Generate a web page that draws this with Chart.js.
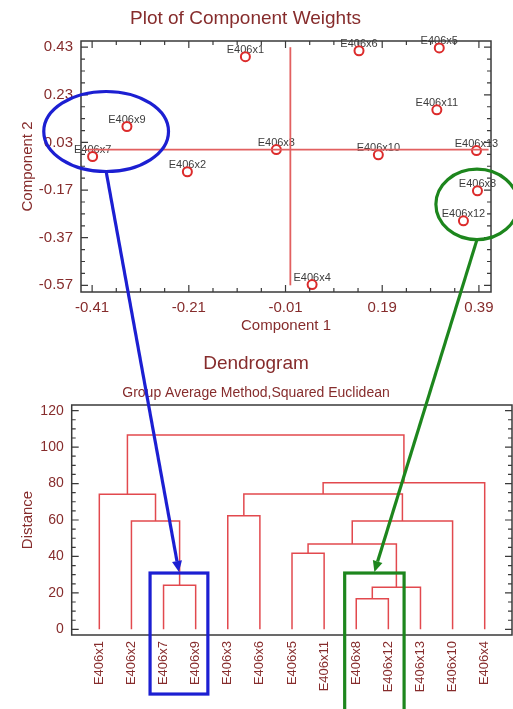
<!DOCTYPE html>
<html>
<head>
<meta charset="utf-8">
<script src="https://cdn.jsdelivr.net/npm/chart.js@4.4.1/dist/chart.umd.min.js"></script>
<style>
  body { margin: 0; background: #fff; }
  #wrap { position: relative; width: 513px; height: 709px; overflow: hidden; }
  #weights { position: absolute; left: 0; top: 0; }
  #dendro { position: absolute; left: 0; top: 340px; }
  #over { position: absolute; left: 0; top: 0; pointer-events: none; }
</style>
</head>
<body>
<div id="wrap">
  <canvas id="weights" width="513" height="340"></canvas>
  <canvas id="dendro" width="513" height="369"></canvas>
  <canvas id="over" width="513" height="709"></canvas>
</div>
<script>
// ---- component weights (top plot) ----
const pointNames = ['E406x1','E406x2','E406x3','E406x4','E406x5','E406x6','E406x7','E406x8','E406x9','E406x10','E406x11','E406x12','E406x13'];
const comp1 = [-0.093,-0.213,-0.029,0.045,0.308,0.142,-0.409,0.387,-0.338,0.182,0.303,0.358,0.385];
const comp2 = [0.390,-0.093,0.000,-0.567,0.427,0.415,-0.029,-0.173,0.097,-0.022,0.167,-0.299,-0.004];
const xTicks = [-0.41,-0.21,-0.01,0.19,0.39];
const yTicks = [-0.57,-0.37,-0.17,0.03,0.23,0.43];
const zeroLineX = [-0.424, 0.41];   // horizontal line at comp2 = 0
const zeroLineY = [-0.57, 0.43];    // vertical line at comp1 = 0

// ---- dendrogram (bottom plot) ----
const leafNames = ['E406x1','E406x2','E406x7','E406x9','E406x3','E406x6','E406x5','E406x11','E406x8','E406x12','E406x13','E406x10','E406x4'];
// merge k joins mergeA[k] and mergeB[k] into cluster 'c'+k
const mergeA = ['E406x7','E406x8','c1','E406x5','c3','E406x3','E406x2','c4','E406x1','c5','c9','c8'];
const mergeB = ['E406x9','E406x12','E406x13','E406x11','c2','E406x6','c0','E406x10','c6','c7','E406x4','c10'];
const mergeH = [24.2, 16.8, 23.1, 41.7, 46.8, 62.4, 59.5, 59.5, 74.1, 74.3, 80.5, 106.7];
const distTicks = [0,20,40,60,80,100,120];

// callouts: ellipse in the top plot, box in the dendrogram
const callouts = [
  { color: '#1c1fd2', cx: -0.381, cy: 0.076, rx: 0.129, ry: 0.168, box: [1.58, 3.38], boxTop: 30.9, boxBottom: -35.5 },
  { color: '#1d861d', cx: 0.386, cy: -0.230, rx: 0.085, ry: 0.148, box: [7.64, 9.49], boxTop: 30.9, boxBottom: -46 }
];

const maroon = '#862c2c';
Chart.defaults.font.family = "'Liberation Sans', Arial, sans-serif";
Chart.defaults.color = maroon;

// border + inward ticks on the plot frame
const frameTicks = {
  id: 'frameTicks',
  afterDraw(chart, args, o) {
    const ctx = chart.ctx, a = chart.chartArea;
    ctx.save();
    ctx.strokeStyle = '#3a3a3a';
    ctx.lineWidth = 1.5;
    ctx.strokeRect(a.left, a.top, a.right - a.left, a.bottom - a.top);
    ctx.lineWidth = 1.2;
    ctx.beginPath();
    (o.marks || []).forEach(function(m) {
      const s = chart.scales[m.axis];
      for (let k = -60; k <= 60; k++) {
        const v = m.start + k * m.step;
        if (v < s.min - 1e-9 || v > s.max + 1e-9) continue;
        const p = s.getPixelForValue(v);
        const len = (k % m.every === 0) ? 7 : 4;
        m.sides.forEach(function(side) {
          if (side === 'left') { ctx.moveTo(a.left, p); ctx.lineTo(a.left + len, p); }
          if (side === 'right') { ctx.moveTo(a.right, p); ctx.lineTo(a.right - len, p); }
          if (side === 'bottom') { ctx.moveTo(p, a.bottom); ctx.lineTo(p, a.bottom - len); }
          if (side === 'top') { ctx.moveTo(p, a.top); ctx.lineTo(p, a.top + len); }
        });
      }
    });
    ctx.stroke();
    ctx.restore();
  }
};

// names above the scatter points
const pointLabels = {
  id: 'pointLabels',
  beforeDatasetsDraw(chart) {
    const ctx = chart.ctx;
    const meta = chart.getDatasetMeta(2);
    ctx.save();
    ctx.font = "11px 'Liberation Sans', Arial, sans-serif";
    ctx.fillStyle = '#3c3c3c';
    ctx.textAlign = 'center';
    ctx.textBaseline = 'middle';
    meta.data.forEach(function(el, i) {
      ctx.fillText(pointNames[i], el.x, el.y - 7);
    });
    ctx.restore();
  }
};

function fixTicks(list) {
  return function(scale) { scale.ticks = list.map(function(v) { return { value: v }; }); };
}

const weightChart = new Chart(document.getElementById('weights'), {
  type: 'scatter',
  data: {
    datasets: [
      { data: zeroLineX.map(function(x) { return { x: x, y: 0 }; }), showLine: true,
        borderColor: '#e26060', borderWidth: 1.8, pointRadius: 0 },
      { data: zeroLineY.map(function(y) { return { x: 0, y: y }; }), showLine: true,
        borderColor: '#e26060', borderWidth: 1.8, pointRadius: 0 },
      { data: pointNames.map(function(n, i) { return { x: comp1[i], y: comp2[i] }; }),
        pointRadius: 4.5, pointHoverRadius: 4.5, borderWidth: 2,
        borderColor: '#dc2b2b', backgroundColor: 'rgba(0,0,0,0)' }
    ]
  },
  options: {
    responsive: false,
    animation: false,
    layout: { padding: { left: 0, right: 22, top: 0, bottom: 0 } },
    plugins: {
      legend: { display: false },
      tooltip: { enabled: false },
      title: { display: true, text: 'Plot of Component Weights', color: maroon,
        font: { size: 19, weight: 'normal' }, padding: { top: 7.6, bottom: 10.6 } },
      frameTicks: { marks: [
        { axis: 'x', start: -0.41, step: 0.05, every: 4, sides: ['bottom', 'top'] },
        { axis: 'y', start: 0.43, step: 0.05, every: 4, sides: ['left', 'right'] }
      ] }
    },
    scales: {
      x: {
        type: 'linear', min: -0.433, max: 0.415,
        afterBuildTicks: fixTicks(xTicks),
        afterFit: function(s) { s.height = 48; },
        grid: { display: false, drawTicks: false }, border: { display: false },
        ticks: { padding: 7, color: maroon, font: { size: 15 }, callback: function(v) { return v.toFixed(2); } },
        title: { display: true, text: 'Component 1', color: maroon, font: { size: 15 }, padding: { top: 0, bottom: 5 } }
      },
      y: {
        type: 'linear', min: -0.598, max: 0.456,
        afterBuildTicks: fixTicks(yTicks),
        afterFit: function(s) { s.width = 81; },
        grid: { display: false, drawTicks: false }, border: { display: false },
        ticks: { padding: 8, color: maroon, font: { size: 15 }, callback: function(v) { return v.toFixed(2); } },
        title: { display: true, text: 'Component 2', color: maroon, font: { size: 15 }, padding: { top: 18.5, bottom: 0 } }
      }
    }
  },
  plugins: [frameTicks, pointLabels]
});

// build the dendrogram links from the merge list
const nodeX = {}, nodeH = {};
leafNames.forEach(function(n, i) { nodeX[n] = i; nodeH[n] = 0; });
const linkSets = mergeH.map(function(h, k) {
  const a = mergeA[k], b = mergeB[k];
  nodeX['c' + k] = (nodeX[a] + nodeX[b]) / 2;
  nodeH['c' + k] = h;
  return {
    data: [ { x: nodeX[a], y: nodeH[a] }, { x: nodeX[a], y: h }, { x: nodeX[b], y: h }, { x: nodeX[b], y: nodeH[b] } ],
    showLine: true, borderColor: '#e2494e', borderWidth: 1.5, pointRadius: 0, tension: 0
  };
});

const dendroChart = new Chart(document.getElementById('dendro'), {
  type: 'scatter',
  data: { datasets: linkSets },
  options: {
    responsive: false,
    animation: false,
    layout: { padding: { left: 0, right: 1, top: 0, bottom: 0 } },
    plugins: {
      legend: { display: false },
      tooltip: { enabled: false },
      title: { display: true, text: 'Dendrogram', color: maroon,
        font: { size: 19, weight: 'normal' }, padding: { top: 12.1, bottom: 9.7 } },
      subtitle: { display: true, text: 'Group Average Method,Squared Euclidean', color: maroon,
        font: { size: 14 }, padding: { top: 0, bottom: 3.6 } },
      frameTicks: { marks: [
        { axis: 'y', start: 0, step: 5, every: 4, sides: ['left', 'right'] }
      ] }
    },
    scales: {
      x: {
        type: 'linear', min: -0.86, max: 12.85,
        afterBuildTicks: fixTicks(leafNames.map(function(n, i) { return i; })),
        afterFit: function(s) { s.height = 74; },
        grid: { display: false, drawTicks: false }, border: { display: false },
        ticks: { autoSkip: false, minRotation: 90, maxRotation: 90, padding: 6, color: maroon,
          font: { size: 13 }, callback: function(v) { return leafNames[v]; } }
      },
      y: {
        type: 'linear', min: -3.1, max: 123.1,
        afterBuildTicks: fixTicks(distTicks),
        afterFit: function(s) { s.width = 71.7; },
        grid: { display: false, drawTicks: false }, border: { display: false },
        ticks: { padding: 8, color: maroon, font: { size: 14 } },
        title: { display: true, text: 'Distance', color: maroon, font: { size: 15 }, padding: { top: 19, bottom: 0 } }
      }
    }
  },
  plugins: [frameTicks]
});

// ellipses, arrows and boxes over both plots
function drawCallouts() {
  const ctx = document.getElementById('over').getContext('2d');
  const sx = weightChart.scales.x, sy = weightChart.scales.y;
  const dx = dendroChart.scales.x, dy = dendroChart.scales.y;
  const offY = 340;
  ctx.clearRect(0, 0, 513, 709);
  callouts.forEach(function(c) {
    const ex = sx.getPixelForValue(c.cx), ey = sy.getPixelForValue(c.cy);
    const rx = Math.abs(sx.getPixelForValue(c.cx + c.rx) - ex);
    const ry = Math.abs(sy.getPixelForValue(c.cy + c.ry) - ey);
    ctx.strokeStyle = c.color;
    ctx.fillStyle = c.color;
    ctx.lineWidth = 3.2;
    ctx.beginPath();
    ctx.ellipse(ex, ey, rx, ry, 0, 0, Math.PI * 2);
    ctx.stroke();

    const bx0 = dx.getPixelForValue(c.box[0]), bx1 = dx.getPixelForValue(c.box[1]);
    const by0 = dy.getPixelForValue(c.boxTop) + offY, by1 = dy.getPixelForValue(c.boxBottom) + offY;
    ctx.strokeRect(bx0, by0, bx1 - bx0, by1 - by0);

    // arrow from the ellipse bottom to the box top
    const x0 = ex, y0 = ey + ry, tx = (bx0 + bx1) / 2, ty = by0 - 1;
    const ang = Math.atan2(ty - y0, tx - x0);
    const hl = 11, hw = 5;
    const baseX = tx - hl * Math.cos(ang), baseY = ty - hl * Math.sin(ang);
    ctx.beginPath();
    ctx.moveTo(x0, y0);
    ctx.lineTo(baseX, baseY);
    ctx.stroke();
    ctx.beginPath();
    ctx.moveTo(tx, ty);
    ctx.lineTo(baseX + hw * Math.sin(ang), baseY - hw * Math.cos(ang));
    ctx.lineTo(baseX - hw * Math.sin(ang), baseY + hw * Math.cos(ang));
    ctx.closePath();
    ctx.fill();
  });
}
drawCallouts();
</script>
</body>
</html>
